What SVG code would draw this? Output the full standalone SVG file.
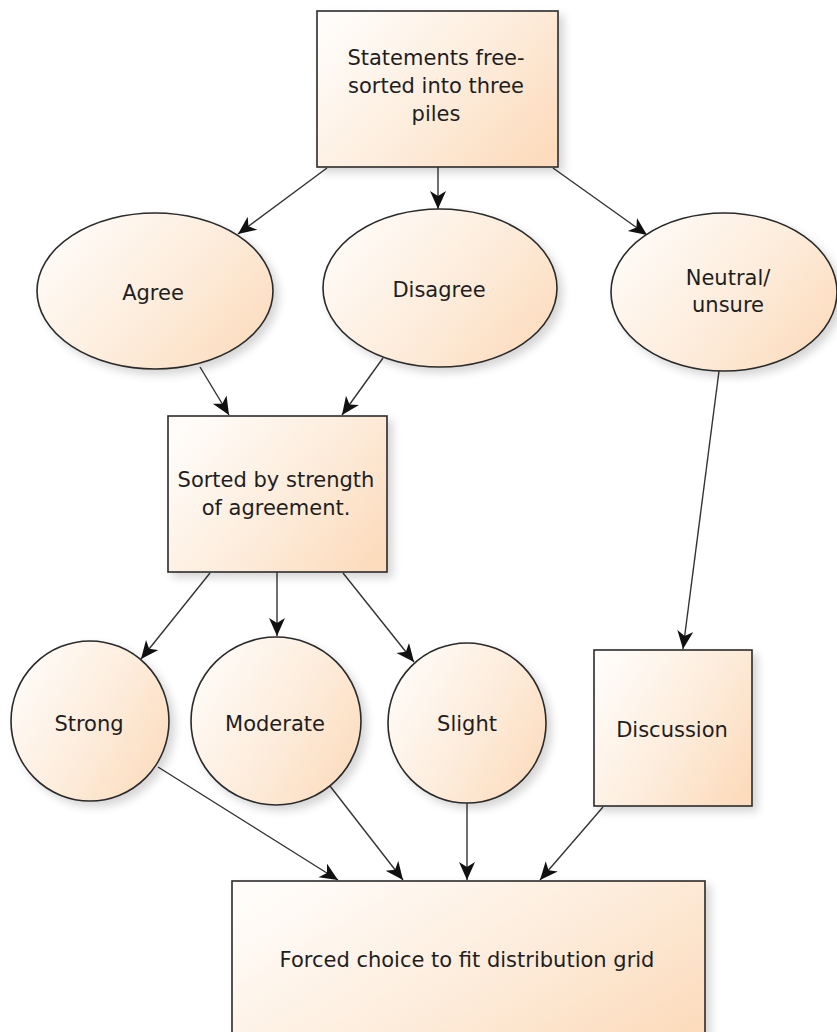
<svg xmlns="http://www.w3.org/2000/svg" width="837" height="1032" viewBox="0 0 837 1032">
<defs>
<linearGradient id="peach" x1="0" y1="0.2" x2="1" y2="0.8">
<stop offset="0" stop-color="#fffcf9"/>
<stop offset="0.55" stop-color="#fdecdb"/>
<stop offset="1" stop-color="#fcdcbd"/>
</linearGradient>
<filter id="shadow" x="-10%" y="-10%" width="130%" height="130%">
<feDropShadow dx="5" dy="5" stdDeviation="4" flood-color="#000" flood-opacity="0.16"/>
</filter>
<marker id="arrow" markerUnits="userSpaceOnUse" markerWidth="20" markerHeight="18" refX="18" refY="8" orient="auto">
<path d="M0,0 L18,8 L0,16 L5,8 z" fill="#111"/>
</marker>
<style>
.node { fill: url(#peach); stroke: #2a2a2a; stroke-width: 1.6; filter: url(#shadow); }
.lbl { font-family: "DejaVu Sans", "Liberation Sans", sans-serif; font-size: 21px; fill: #1e1e1e; text-anchor: middle; }
.edge { stroke: #333; stroke-width: 1.4; fill: none; marker-end: url(#arrow); }
</style>
</defs>
<rect width="837" height="1032" fill="#fff"/>

<g id="connectors">
<line class="edge" x1="327" y1="168" x2="238" y2="234"/>
<line class="edge" x1="438" y1="167" x2="438" y2="209"/>
<line class="edge" x1="553" y1="168" x2="647" y2="235"/>
<line class="edge" x1="200" y1="367" x2="229" y2="415"/>
<line class="edge" x1="383" y1="358" x2="342" y2="415"/>
<line class="edge" x1="719" y1="371" x2="683" y2="649"/>
<line class="edge" x1="210" y1="573" x2="141" y2="659"/>
<line class="edge" x1="277" y1="572" x2="277" y2="636"/>
<line class="edge" x1="343" y1="573" x2="414" y2="662"/>
<line class="edge" x1="158" y1="767" x2="338" y2="880"/>
<line class="edge" x1="330" y1="786" x2="403" y2="880"/>
<line class="edge" x1="467" y1="803" x2="467" y2="880"/>
<line class="edge" x1="603" y1="807" x2="540" y2="880"/>
</g>

<g id="n-top">
<rect class="node" x="317" y="11" width="241" height="156"/>
<text class="lbl" x="436" y="65">Statements free-</text>
<text class="lbl" x="436" y="93">sorted into three</text>
<text class="lbl" x="436" y="121">piles</text>
</g>

<g id="n-agree">
<ellipse class="node" cx="155" cy="291" rx="118" ry="78"/>
<text class="lbl" x="153" y="300">Agree</text>
</g>

<g id="n-disagree">
<ellipse class="node" cx="440" cy="288" rx="117" ry="79"/>
<text class="lbl" x="439" y="297">Disagree</text>
</g>

<g id="n-neutral">
<ellipse class="node" cx="724" cy="292" rx="113" ry="79"/>
<text class="lbl" x="728" y="285">Neutral/</text>
<text class="lbl" x="728" y="312">unsure</text>
</g>

<g id="n-sorted">
<rect class="node" x="168" y="416" width="219" height="156"/>
<text class="lbl" x="276" y="487">Sorted by strength</text>
<text class="lbl" x="276" y="515">of agreement.</text>
</g>

<g id="n-strong">
<ellipse class="node" cx="90" cy="721" rx="79" ry="80"/>
<text class="lbl" x="89" y="731">Strong</text>
</g>

<g id="n-moderate">
<ellipse class="node" cx="276" cy="721" rx="85" ry="84"/>
<text class="lbl" x="275" y="731">Moderate</text>
</g>

<g id="n-slight">
<ellipse class="node" cx="467" cy="723" rx="79" ry="80"/>
<text class="lbl" x="467" y="731">Slight</text>
</g>

<g id="n-discussion">
<rect class="node" x="594" y="650" width="158" height="156"/>
<text class="lbl" x="672" y="737">Discussion</text>
</g>

<g id="n-forced">
<rect class="node" x="232" y="881" width="473" height="170"/>
<text class="lbl" x="467" y="967">Forced choice to fit distribution grid</text>
</g>
</svg>
